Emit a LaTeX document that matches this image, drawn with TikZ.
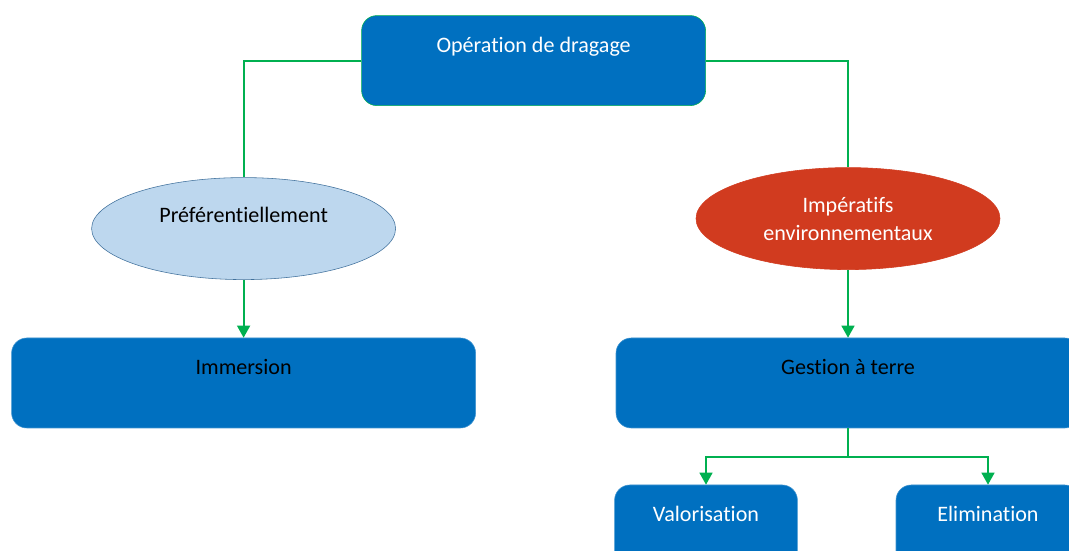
\documentclass[tikz,border=0pt]{standalone}
\usepackage{fontspec}
\setmainfont{Carlito}[Ligatures=NoCommon]
\usetikzlibrary{arrows.meta, shapes.geometric}

\definecolor{boxblue}{HTML}{0070C0}
\definecolor{lightblue}{HTML}{BDD7EE}
\definecolor{ellblue}{HTML}{41719C}
\definecolor{redell}{HTML}{D13B1F}
\definecolor{linkgreen}{HTML}{00B050}

\begin{document}
\begin{tikzpicture}[>={Triangle[length=0.3cm, width=0.32cm]}, font=\fontsize{15.7}{20}\selectfont]
				\tikzstyle{box} = [draw=boxblue!75!white, fill=boxblue, rounded corners=0.38cm, minimum height=2.25cm, text height=0.4cm, text depth=0.8cm]
				\tikzstyle{oval} = [ellipse, draw, minimum height=2.55cm]
				\tikzstyle{link} = [draw=linkgreen, line width=1.4pt]
				
				\useasboundingbox (0, 0) rectangle (26.725, 13.775);
				\clip (0, 0) rectangle (26.725, 13.775);
				
				\node[box, draw=linkgreen, text=white, minimum width=8.6cm] 	at (13.34, 12.26) 	(op) 	{Opération de dragage};
				\node[oval, draw=ellblue, fill=lightblue, minimum width=7.6cm, text height=0.4cm, text depth=0.7cm] 	at (6.09, 8.06) 	(pref) 	{Préférentiellement};
				\node[oval, draw=redell, fill=redell, text=white, align=center, minimum width=7.6cm] 	at (21.2, 8.31) 	(imp) 	{Impératifs\\environnementaux};
				\node[box, text=black, minimum width=11.6cm] 	at (6.09, 4.2) 	(imm) 	{Immersion};
				\node[box, text=black, minimum width=11.6cm] 	at (21.2, 4.2) 	(gest) 	{Gestion à terre};
				\node[box, text=white, minimum width=4.57cm] 	at (17.65, 0.525) 	(val) 	{Valorisation};
				\node[box, text=white, minimum width=4.6cm] 	at (24.7, 0.525) 	(elim) 	{Elimination};
				\coordinate (split) at (21.2, 2.35);
				
				\draw[link] (op.west) -| (pref.north);
				\draw[link] (op.east) -| (imp.north);
				\draw[link, ->] (pref.south) -- (imm.north);
				\draw[link, ->] (imp.south) -- (gest.north);
				\draw[link] (gest.south) -- (split);
				\draw[link, ->] (split) -| (val.north);
				\draw[link, ->] (split) -| (elim.north);
\end{tikzpicture}
\end{document}
